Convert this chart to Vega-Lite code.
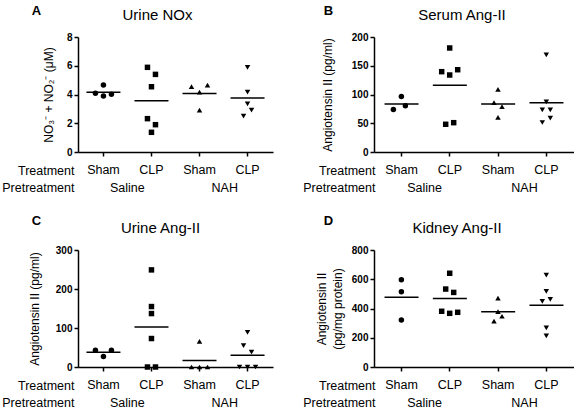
{
  "$schema": "https://vega.github.io/schema/vega-lite/v6.json",
  "padding": {"left": 1, "top": 5, "right": 0, "bottom": 0},
  "config": {
    "font": "Liberation Sans",
    "view": {"stroke": null},
    "axis": {"grid": false, "domainColor": "black", "tickColor": "black", "labelColor": "black", "titleColor": "black", "domainWidth": 1.5, "tickWidth": 1.5, "tickSize": 4, "labelFont": "Liberation Sans", "titleFont": "Liberation Sans", "titleFontWeight": "normal"},
    "axisY": {"labelFontWeight": "bold", "labelFontSize": 10, "titleFontSize": 12, "labelPadding": 2, "labelOverlap": false, "titleLineHeight": 16},
    "axisX": {"labelFontSize": 12.5, "labelAngle": 0, "titleFontSize": 12.5, "labelPadding": 7},
    "title": {"font": "Liberation Sans", "fontWeight": "normal", "color": "black"}
  },
  "data": {"values": [
    {"panel": "A", "pre": "Saline", "grp": "Saline-Sham", "v": 4.66, "slot": 0},
    {"panel": "A", "pre": "Saline", "grp": "Saline-Sham", "v": 4.08, "slot": -2},
    {"panel": "A", "pre": "Saline", "grp": "Saline-Sham", "v": 3.9, "slot": 0},
    {"panel": "A", "pre": "Saline", "grp": "Saline-Sham", "v": 4.01, "slot": 2},
    {"panel": "A", "pre": "Saline", "grp": "Saline-CLP", "v": 5.89, "slot": -1},
    {"panel": "A", "pre": "Saline", "grp": "Saline-CLP", "v": 5.4, "slot": 1},
    {"panel": "A", "pre": "Saline", "grp": "Saline-CLP", "v": 4.54, "slot": 0},
    {"panel": "A", "pre": "Saline", "grp": "Saline-CLP", "v": 2.32, "slot": -1},
    {"panel": "A", "pre": "Saline", "grp": "Saline-CLP", "v": 1.9, "slot": 1},
    {"panel": "A", "pre": "Saline", "grp": "Saline-CLP", "v": 1.37, "slot": 0},
    {"panel": "A", "pre": "NAH", "grp": "NAH-Sham", "v": 4.54, "slot": -2},
    {"panel": "A", "pre": "NAH", "grp": "NAH-Sham", "v": 4.66, "slot": 2},
    {"panel": "A", "pre": "NAH", "grp": "NAH-Sham", "v": 4.17, "slot": 0},
    {"panel": "A", "pre": "NAH", "grp": "NAH-Sham", "v": 2.92, "slot": 0},
    {"panel": "A", "pre": "NAH", "grp": "NAH-CLP", "v": 5.89, "slot": 0},
    {"panel": "A", "pre": "NAH", "grp": "NAH-CLP", "v": 4.17, "slot": 0},
    {"panel": "A", "pre": "NAH", "grp": "NAH-CLP", "v": 3.34, "slot": 0},
    {"panel": "A", "pre": "NAH", "grp": "NAH-CLP", "v": 2.92, "slot": 1},
    {"panel": "A", "pre": "NAH", "grp": "NAH-CLP", "v": 2.5, "slot": -1},

    {"panel": "B", "pre": "Saline", "grp": "Saline-Sham", "v": 96.5, "slot": 0},
    {"panel": "B", "pre": "Saline", "grp": "Saline-Sham", "v": 74, "slot": -2},
    {"panel": "B", "pre": "Saline", "grp": "Saline-Sham", "v": 80.5, "slot": 1},
    {"panel": "B", "pre": "Saline", "grp": "Saline-CLP", "v": 180.9, "slot": 0},
    {"panel": "B", "pre": "Saline", "grp": "Saline-CLP", "v": 139.7, "slot": -2},
    {"panel": "B", "pre": "Saline", "grp": "Saline-CLP", "v": 133.9, "slot": 0},
    {"panel": "B", "pre": "Saline", "grp": "Saline-CLP", "v": 143.1, "slot": 2},
    {"panel": "B", "pre": "Saline", "grp": "Saline-CLP", "v": 48.2, "slot": -1},
    {"panel": "B", "pre": "Saline", "grp": "Saline-CLP", "v": 51, "slot": 1},
    {"panel": "B", "pre": "NAH", "grp": "NAH-Sham", "v": 109, "slot": 0},
    {"panel": "B", "pre": "NAH", "grp": "NAH-Sham", "v": 85.7, "slot": -1},
    {"panel": "B", "pre": "NAH", "grp": "NAH-Sham", "v": 78.8, "slot": 1},
    {"panel": "B", "pre": "NAH", "grp": "NAH-Sham", "v": 60.3, "slot": 0},
    {"panel": "B", "pre": "NAH", "grp": "NAH-CLP", "v": 168.8, "slot": 0},
    {"panel": "B", "pre": "NAH", "grp": "NAH-CLP", "v": 87.3, "slot": 0},
    {"panel": "B", "pre": "NAH", "grp": "NAH-CLP", "v": 73.4, "slot": -1},
    {"panel": "B", "pre": "NAH", "grp": "NAH-CLP", "v": 73.4, "slot": 1},
    {"panel": "B", "pre": "NAH", "grp": "NAH-CLP", "v": 58.9, "slot": 1},
    {"panel": "B", "pre": "NAH", "grp": "NAH-CLP", "v": 51.3, "slot": -1},

    {"panel": "C", "pre": "Saline", "grp": "Saline-Sham", "v": 43, "slot": -2},
    {"panel": "C", "pre": "Saline", "grp": "Saline-Sham", "v": 27, "slot": 0},
    {"panel": "C", "pre": "Saline", "grp": "Saline-Sham", "v": 43, "slot": 2},
    {"panel": "C", "pre": "Saline", "grp": "Saline-CLP", "v": 249, "slot": 0},
    {"panel": "C", "pre": "Saline", "grp": "Saline-CLP", "v": 155, "slot": 0},
    {"panel": "C", "pre": "Saline", "grp": "Saline-CLP", "v": 137, "slot": 0},
    {"panel": "C", "pre": "Saline", "grp": "Saline-CLP", "v": 73, "slot": 0},
    {"panel": "C", "pre": "Saline", "grp": "Saline-CLP", "v": 0, "slot": -1},
    {"panel": "C", "pre": "Saline", "grp": "Saline-CLP", "v": 0, "slot": 1},
    {"panel": "C", "pre": "NAH", "grp": "NAH-Sham", "v": 66, "slot": 0},
    {"panel": "C", "pre": "NAH", "grp": "NAH-Sham", "v": 0, "slot": -2},
    {"panel": "C", "pre": "NAH", "grp": "NAH-Sham", "v": 0, "slot": 0},
    {"panel": "C", "pre": "NAH", "grp": "NAH-Sham", "v": 0, "slot": 2},
    {"panel": "C", "pre": "NAH", "grp": "NAH-CLP", "v": 89, "slot": 0},
    {"panel": "C", "pre": "NAH", "grp": "NAH-CLP", "v": 55, "slot": -1},
    {"panel": "C", "pre": "NAH", "grp": "NAH-CLP", "v": 38, "slot": 1},
    {"panel": "C", "pre": "NAH", "grp": "NAH-CLP", "v": 0, "slot": -2},
    {"panel": "C", "pre": "NAH", "grp": "NAH-CLP", "v": 0, "slot": 0},
    {"panel": "C", "pre": "NAH", "grp": "NAH-CLP", "v": 0, "slot": 2},

    {"panel": "D", "pre": "Saline", "grp": "Saline-Sham", "v": 596, "slot": 0},
    {"panel": "D", "pre": "Saline", "grp": "Saline-Sham", "v": 514, "slot": 0},
    {"panel": "D", "pre": "Saline", "grp": "Saline-Sham", "v": 322, "slot": 0},
    {"panel": "D", "pre": "Saline", "grp": "Saline-CLP", "v": 641, "slot": 0},
    {"panel": "D", "pre": "Saline", "grp": "Saline-CLP", "v": 533, "slot": -1},
    {"panel": "D", "pre": "Saline", "grp": "Saline-CLP", "v": 510, "slot": 1},
    {"panel": "D", "pre": "Saline", "grp": "Saline-CLP", "v": 381, "slot": -2},
    {"panel": "D", "pre": "Saline", "grp": "Saline-CLP", "v": 367, "slot": 0},
    {"panel": "D", "pre": "Saline", "grp": "Saline-CLP", "v": 374, "slot": 2},
    {"panel": "D", "pre": "NAH", "grp": "NAH-Sham", "v": 471, "slot": 0},
    {"panel": "D", "pre": "NAH", "grp": "NAH-Sham", "v": 378, "slot": 0},
    {"panel": "D", "pre": "NAH", "grp": "NAH-Sham", "v": 347, "slot": 1},
    {"panel": "D", "pre": "NAH", "grp": "NAH-Sham", "v": 313, "slot": -1},
    {"panel": "D", "pre": "NAH", "grp": "NAH-CLP", "v": 628, "slot": 0},
    {"panel": "D", "pre": "NAH", "grp": "NAH-CLP", "v": 517, "slot": 0},
    {"panel": "D", "pre": "NAH", "grp": "NAH-CLP", "v": 449, "slot": -1},
    {"panel": "D", "pre": "NAH", "grp": "NAH-CLP", "v": 463, "slot": 1},
    {"panel": "D", "pre": "NAH", "grp": "NAH-CLP", "v": 267, "slot": 0},
    {"panel": "D", "pre": "NAH", "grp": "NAH-CLP", "v": 213, "slot": 0}
  ]},
  "spacing": 21,
  "vconcat": [
    {
      "spacing": 29,
      "hconcat": [
        {
          "title": {"text": "A", "anchor": "start", "fontWeight": "bold", "fontSize": 13, "dx": 30, "offset": -10},
          "vconcat": [{
            "title": {"text": "Urine NOx", "fontSize": 15, "dx": -18, "offset": 9},
            "width": 195, "height": 115,
            "transform": [{"filter": "datum.panel === 'A'"}],
            "layer": [
              {"layer": [
                {"mark": {"type": "point", "filled": true, "color": "black", "opacity": 1, "size": 30},
                 "encoding": {
                   "x": {"field": "grp", "type": "nominal", "scale": {"domain": ["Saline-Sham", "Saline-CLP", "NAH-Sham", "NAH-CLP"], "paddingInner": 0, "paddingOuter": 0.03},
                         "axis": {"labelExpr": "slice(datum.label, indexof(datum.label, '-') + 1)", "title": "Treatment", "titleX": -4, "titleY": 18, "titleAlign": "right", "titleBaseline": "middle", "titleAngle": 0}},
                   "xOffset": {"field": "slot", "type": "quantitative", "scale": {"domain": [-6, 6], "range": [0, 48]}},
                   "y": {"field": "v", "type": "quantitative", "scale": {"domain": [0, 8]}, "axis": {"values": [0, 2, 4, 6, 8], "titlePadding": 11}, "title": "NO₃⁻ + NO₂⁻ (μM)"},
                   "shape": {"field": "grp", "type": "nominal", "scale": {"domain": ["Saline-Sham", "Saline-CLP", "NAH-Sham", "NAH-CLP"], "range": ["circle", "square", "triangle-up", "triangle-down"]}, "legend": null}
                 }},
                {"mark": {"type": "tick", "color": "black", "size": 34, "thickness": 1.5},
                 "encoding": {
                   "x": {"field": "grp", "type": "nominal"},
                   "y": {"aggregate": "mean", "field": "v", "type": "quantitative", "axis": {"values": [0, 2, 4, 6, 8], "titlePadding": 11}, "title": "NO₃⁻ + NO₂⁻ (μM)"}
                 }}
              ]},
              {"mark": {"type": "point", "opacity": 0},
               "encoding": {
                 "x": {"field": "pre", "type": "nominal", "scale": {"domain": ["Saline", "NAH"], "paddingInner": 0, "paddingOuter": 0.015},
                       "axis": {"orient": "bottom", "offset": 18, "domain": false, "ticks": false, "labelPadding": 11, "title": "Pretreatment", "titleX": -4, "titleY": 17, "titleAlign": "right", "titleBaseline": "middle", "titleAngle": 0}},
                 "y": {"field": "v", "type": "quantitative", "axis": {"values": [0, 2, 4, 6, 8], "titlePadding": 11}, "title": "NO₃⁻ + NO₂⁻ (μM)"}
               }}
            ],
            "resolve": {"scale": {"x": "independent"}, "axis": {"x": "independent"}}
          }]
        },
        {
          "title": {"text": "B", "anchor": "start", "fontWeight": "bold", "fontSize": 13, "dx": 21, "offset": -10},
          "vconcat": [{
            "title": {"text": "Serum Ang-II", "fontSize": 15, "dx": -12, "offset": 9},
            "width": 200, "height": 115,
            "transform": [{"filter": "datum.panel === 'B'"}],
            "layer": [
              {"layer": [
                {"mark": {"type": "point", "filled": true, "color": "black", "opacity": 1, "size": 30},
                 "encoding": {
                   "x": {"field": "grp", "type": "nominal", "scale": {"domain": ["Saline-Sham", "Saline-CLP", "NAH-Sham", "NAH-CLP"], "paddingInner": 0, "paddingOuter": 0.07},
                         "axis": {"labelExpr": "slice(datum.label, indexof(datum.label, '-') + 1)", "title": "Treatment", "titleX": 1, "titleY": 18, "titleAlign": "right", "titleBaseline": "middle", "titleAngle": 0}},
                   "xOffset": {"field": "slot", "type": "quantitative", "scale": {"domain": [-6, 6], "range": [0, 48.3]}},
                   "y": {"field": "v", "type": "quantitative", "scale": {"domain": [0, 200]}, "axis": {"values": [0, 50, 100, 150, 200], "titlePadding": 17}, "title": "Angiotensin II (pg/ml)"},
                   "shape": {"field": "grp", "type": "nominal", "scale": {"domain": ["Saline-Sham", "Saline-CLP", "NAH-Sham", "NAH-CLP"], "range": ["circle", "square", "triangle-up", "triangle-down"]}, "legend": null}
                 }},
                {"mark": {"type": "tick", "color": "black", "size": 34, "thickness": 1.5},
                 "encoding": {
                   "x": {"field": "grp", "type": "nominal"},
                   "y": {"aggregate": "mean", "field": "v", "type": "quantitative", "axis": {"values": [0, 50, 100, 150, 200], "titlePadding": 17}, "title": "Angiotensin II (pg/ml)"}
                 }}
              ]},
              {"mark": {"type": "point", "opacity": 0},
               "encoding": {
                 "x": {"field": "pre", "type": "nominal", "scale": {"domain": ["Saline", "NAH"], "paddingInner": 0, "paddingOuter": 0.035},
                       "axis": {"orient": "bottom", "offset": 18, "domain": false, "ticks": false, "labelPadding": 11, "title": "Pretreatment", "titleX": 1, "titleY": 17, "titleAlign": "right", "titleBaseline": "middle", "titleAngle": 0}},
                 "y": {"field": "v", "type": "quantitative", "axis": {"values": [0, 50, 100, 150, 200], "titlePadding": 17}, "title": "Angiotensin II (pg/ml)"}
               }}
            ],
            "resolve": {"scale": {"x": "independent"}, "axis": {"x": "independent"}}
          }]
        }
      ]
    },
    {
      "spacing": 29,
      "hconcat": [
        {
          "title": {"text": "C", "anchor": "start", "fontWeight": "bold", "fontSize": 13, "dx": 30, "offset": -7},
          "vconcat": [{
            "title": {"text": "Urine Ang-II", "fontSize": 15, "dx": -15, "offset": 9},
            "width": 195, "height": 117,
            "transform": [{"filter": "datum.panel === 'C'"}],
            "layer": [
              {"layer": [
                {"mark": {"type": "point", "filled": true, "color": "black", "opacity": 1, "size": 30},
                 "encoding": {
                   "x": {"field": "grp", "type": "nominal", "scale": {"domain": ["Saline-Sham", "Saline-CLP", "NAH-Sham", "NAH-CLP"], "paddingInner": 0, "paddingOuter": 0.03},
                         "axis": {"labelExpr": "slice(datum.label, indexof(datum.label, '-') + 1)", "title": "Treatment", "titleX": -4, "titleY": 18, "titleAlign": "right", "titleBaseline": "middle", "titleAngle": 0}},
                   "xOffset": {"field": "slot", "type": "quantitative", "scale": {"domain": [-6, 6], "range": [0, 48]}},
                   "y": {"field": "v", "type": "quantitative", "scale": {"domain": [0, 300]}, "axis": {"values": [0, 100, 200, 300], "titlePadding": 14}, "title": "Angiotensin II (pg/ml)"},
                   "shape": {"field": "grp", "type": "nominal", "scale": {"domain": ["Saline-Sham", "Saline-CLP", "NAH-Sham", "NAH-CLP"], "range": ["circle", "square", "triangle-up", "triangle-down"]}, "legend": null}
                 }},
                {"mark": {"type": "tick", "color": "black", "size": 34, "thickness": 1.5},
                 "encoding": {
                   "x": {"field": "grp", "type": "nominal"},
                   "y": {"aggregate": "mean", "field": "v", "type": "quantitative", "axis": {"values": [0, 100, 200, 300], "titlePadding": 14}, "title": "Angiotensin II (pg/ml)"}
                 }}
              ]},
              {"mark": {"type": "point", "opacity": 0},
               "encoding": {
                 "x": {"field": "pre", "type": "nominal", "scale": {"domain": ["Saline", "NAH"], "paddingInner": 0, "paddingOuter": 0.015},
                       "axis": {"orient": "bottom", "offset": 18, "domain": false, "ticks": false, "labelPadding": 11, "title": "Pretreatment", "titleX": -4, "titleY": 17, "titleAlign": "right", "titleBaseline": "middle", "titleAngle": 0}},
                 "y": {"field": "v", "type": "quantitative", "axis": {"values": [0, 100, 200, 300], "titlePadding": 14}, "title": "Angiotensin II (pg/ml)"}
               }}
            ],
            "resolve": {"scale": {"x": "independent"}, "axis": {"x": "independent"}}
          }]
        },
        {
          "title": {"text": "D", "anchor": "start", "fontWeight": "bold", "fontSize": 13, "dx": 21, "offset": -7},
          "vconcat": [{
            "title": {"text": "Kidney Ang-II", "fontSize": 15, "dx": -17, "offset": 9},
            "width": 200, "height": 117,
            "transform": [{"filter": "datum.panel === 'D'"}],
            "layer": [
              {"layer": [
                {"mark": {"type": "point", "filled": true, "color": "black", "opacity": 1, "size": 30},
                 "encoding": {
                   "x": {"field": "grp", "type": "nominal", "scale": {"domain": ["Saline-Sham", "Saline-CLP", "NAH-Sham", "NAH-CLP"], "paddingInner": 0, "paddingOuter": 0.07},
                         "axis": {"labelExpr": "slice(datum.label, indexof(datum.label, '-') + 1)", "title": "Treatment", "titleX": 1, "titleY": 18, "titleAlign": "right", "titleBaseline": "middle", "titleAngle": 0}},
                   "xOffset": {"field": "slot", "type": "quantitative", "scale": {"domain": [-6, 6], "range": [0, 48.3]}},
                   "y": {"field": "v", "type": "quantitative", "scale": {"domain": [0, 800]}, "axis": {"values": [0, 200, 400, 600, 800], "titlePadding": 7}, "title": ["Angiotensin II", "(pg/mg protein)"]},
                   "shape": {"field": "grp", "type": "nominal", "scale": {"domain": ["Saline-Sham", "Saline-CLP", "NAH-Sham", "NAH-CLP"], "range": ["circle", "square", "triangle-up", "triangle-down"]}, "legend": null}
                 }},
                {"mark": {"type": "tick", "color": "black", "size": 34, "thickness": 1.5},
                 "encoding": {
                   "x": {"field": "grp", "type": "nominal"},
                   "y": {"aggregate": "mean", "field": "v", "type": "quantitative", "axis": {"values": [0, 200, 400, 600, 800], "titlePadding": 7}, "title": ["Angiotensin II", "(pg/mg protein)"]}
                 }}
              ]},
              {"mark": {"type": "point", "opacity": 0},
               "encoding": {
                 "x": {"field": "pre", "type": "nominal", "scale": {"domain": ["Saline", "NAH"], "paddingInner": 0, "paddingOuter": 0.035},
                       "axis": {"orient": "bottom", "offset": 18, "domain": false, "ticks": false, "labelPadding": 11, "title": "Pretreatment", "titleX": 1, "titleY": 17, "titleAlign": "right", "titleBaseline": "middle", "titleAngle": 0}},
                 "y": {"field": "v", "type": "quantitative", "axis": {"values": [0, 200, 400, 600, 800], "titlePadding": 7}, "title": ["Angiotensin II", "(pg/mg protein)"]}
               }}
            ],
            "resolve": {"scale": {"x": "independent"}, "axis": {"x": "independent"}}
          }]
        }
      ]
    }
  ]
}
